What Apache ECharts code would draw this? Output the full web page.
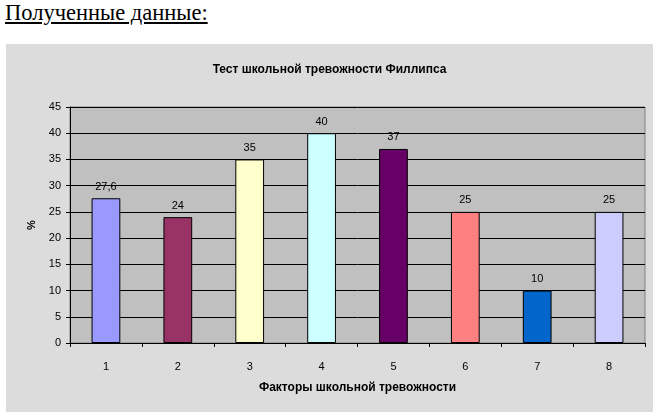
<!DOCTYPE html>
<html>
<head>
<meta charset="utf-8">
<script src="https://cdn.jsdelivr.net/npm/echarts@6/dist/echarts.min.js"></script>
<style>
  body { margin: 0; background: #fff; width: 660px; height: 418px; position: relative; overflow: hidden; }
  .heading {
    position: absolute; left: 5px; top: 0px;
    font-family: "Liberation Serif", "Times New Roman", serif;
    font-size: 22.5px; text-decoration: underline; color: #000;
  }
  .myChart {
    position: absolute; left: 6px; top: 44px;
    width: 647px; height: 368px;
  }
</style>
</head>
<body>
<div class="heading">Полученные данные:</div>
<div id="chart" class="myChart"></div>
<script>
// данные диаграммы
const categories = ['1', '2', '3', '4', '5', '6', '7', '8'];
const values = [27.6, 24, 35, 40, 37, 25, 10, 25];
const barColors = ['#9999ff', '#993366', '#ffffcc', '#ccffff', '#660066', '#ff8080', '#0066cc', '#ccccff'];

const font = '"Liberation Sans", Arial, sans-serif';
const chart = echarts.init(document.getElementById('chart'));

let option = {
  backgroundColor: '#dcdcdc',
  animation: false,
  title: {
    text: 'Тест школьной тревожности Филлипса',
    left: 'center',
    top: 15,
    textStyle: { fontFamily: font, fontSize: 12, fontWeight: 'bold', color: '#000' },
  },
  grid: {
    left: 64, right: 8, top: 63, bottom: 69,
    show: true,
    backgroundColor: '#c0c0c0',
    borderColor: '#808080',
    borderWidth: 1,
  },
  xAxis: {
    type: 'category',
    data: categories,
    name: 'Факторы школьной тревожности',
    nameLocation: 'middle',
    nameGap: 39,
    nameTextStyle: { fontFamily: font, fontSize: 12, fontWeight: 'bold', color: '#000' },
    axisLine: { lineStyle: { color: '#000', width: 1 } },
    axisTick: { show: true, length: 4, lineStyle: { color: '#000' } },
    axisLabel: { fontFamily: font, fontSize: 11, color: '#000', margin: 18 },
  },
  yAxis: {
    type: 'value',
    min: 0,
    max: 45,
    interval: 5,
    name: '%',
    nameLocation: 'middle',
    nameGap: 33,
    nameRotate: 90,
    nameTextStyle: { fontFamily: font, fontSize: 11, fontWeight: 'bold', color: '#000' },
    axisLine: { show: true, lineStyle: { color: '#000', width: 1 } },
    axisTick: { show: true, length: 4, lineStyle: { color: '#000' } },
    axisLabel: { fontFamily: font, fontSize: 11, color: '#000', margin: 9 },
    splitLine: { show: true, lineStyle: { color: '#000', width: 1 } },
  },
  series: [
    {
      type: 'bar',
      barWidth: '40%',
      data: values.map((v, i) => ({
        value: v,
        itemStyle: { color: barColors[i], borderColor: '#000', borderWidth: 1 },
      })),
      label: {
        show: true,
        position: 'top',
        distance: 6,
        fontFamily: font,
        fontSize: 11,
        color: '#000',
        formatter: (p) => String(p.value).replace('.', ','),
      },
    },
  ],
};
chart.setOption(option);
</script>
</body>
</html>
